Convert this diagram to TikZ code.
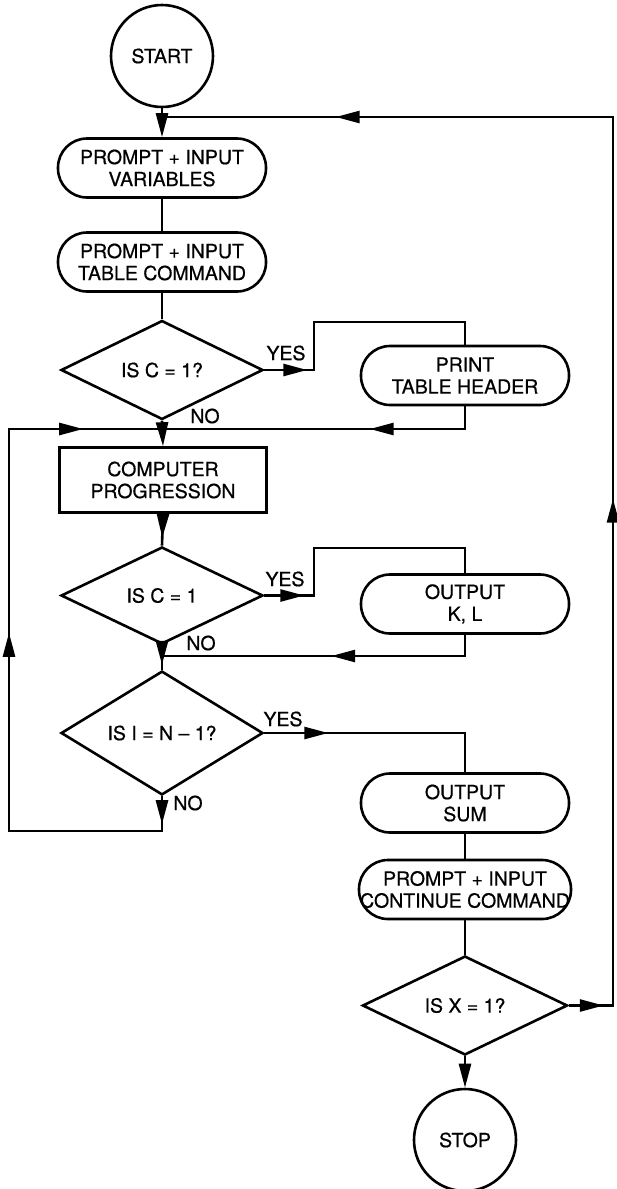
\documentclass[tikz,border=0pt]{standalone}
\usepackage{fontspec}
\setmainfont{TeX Gyre Heros}[FakeBold=0.6]
\usetikzlibrary{shapes.geometric,arrows.meta,decorations.markings}
\begin{document}
\begin{tikzpicture}[x=1pt,y=-1pt,
  every node/.style={font=\fontsize{19.5}{22}\selectfont, inner sep=1pt},
  line/.style={line width=2.6pt},
  term/.style={draw, line width=2.6pt, rounded corners=29pt, minimum width=208pt, minimum height=59pt, align=center},
  proc/.style={draw, line width=2.6pt, minimum width=207pt, minimum height=65pt, align=center},
  decide/.style={draw, line width=2.6pt, diamond, minimum width=202pt, minimum height=99pt, inner sep=0pt},
  endpt/.style={draw, line width=2.6pt, circle, minimum size=102pt},
  tip/.style={postaction={decorate, decoration={markings, mark=at position #1 with {\arrow{Triangle[length=24pt,width=12pt]}}}}},
  endtip/.style={-{Triangle[length=24pt,width=12pt]}},
  lbl/.style={inner sep=0pt}
]
\useasboundingbox (0,0) rectangle (616,1189);

\node[endpt] (start) at (162,56) {START};
\node[term] (p1) at (162,168) {PROMPT + INPUT\\VARIABLES};
\node[term] (p2) at (162,262) {PROMPT + INPUT\\TABLE COMMAND};
\node[decide] (d1) at (162,370) {IS C = 1?};
\node[term] (ph) at (465,375.5) {PRINT\\TABLE HEADER};
\node[proc] (cp) at (163,480) {COMPUTER\\PROGRESSION};
\node[decide, minimum height=97pt] (d2) at (162,595.5) {IS C = 1};
\node[term] (ok) at (465,604) {OUTPUT\\K, L};
\node[decide, minimum height=106pt] (d3) at (162,733) {IS I = N -- 1?};
\node[term] (os) at (465,803) {OUTPUT\\SUM};
\node[term, minimum width=212pt, inner sep=0pt] (pc) at (465,889.5) {PROMPT + INPUT\\CONTINUE COMMAND};
\node[decide, minimum width=205pt] (d4) at (465,1005.5) {IS X = 1?};
\node[endpt] (stop) at (465,1140) {STOP};

\coordinate (j0) at (162,117);
\coordinate (j1) at (162,429);
\coordinate (j2) at (162,656);

\draw[line, endtip] (start.south) -- (p1.north);
\draw[line, tip=35pt, tip=551pt, tip=1210pt] (d4.east) -- (613,1005.5) -- (613,117) -- (j0);
\draw[line] (p1.south) -- (p2.north);
\draw[line] (p2.south) -- (d1.north);
\draw[line, tip=43pt] (d1.east) -- (314,370) |- (465,322) -- (ph.north);
\draw[line, tip=118pt] (ph.south) |- (j1);
\draw[line, endtip] (d1.south) -- (cp.north);
\draw[line, tip=28pt, tip=386pt, tip=664pt] (d3.south) -- (162,831) -| (9,429) -- (j1);
\draw[line] (cp.south) -- (d2.north);
\draw[line, endtip, shorten >=8pt] (cp.south) -- (d2.north);
\draw[line, tip=40pt] (d2.east) -- (314,595.5) |- (465,548) -- (ok.north);
\draw[line, tip=155pt] (ok.south) |- (j2);
\draw[line] (d2.south) -- (d3.north);
\draw[line, endtip, shorten >=5pt] (d2.south) -- (d3.north);
\draw[line, tip=64pt] (d3.east) -| (os.north);
\draw[line] (os.south) -- (pc.north);
\draw[line] (pc.south) -- (d4.north);
\draw[line, endtip] (d4.south) -- (stop.north);

\node[lbl] (y1) at (286,353) {YES};
\node[lbl] (n1) at (205,416) {NO};
\node[lbl] (y2) at (285,579) {YES};
\node[lbl] (n2) at (201,643) {NO};
\node[lbl] (y3) at (283,719) {YES};
\node[lbl] (n3) at (188,803) {NO};
\end{tikzpicture}
\end{document}
